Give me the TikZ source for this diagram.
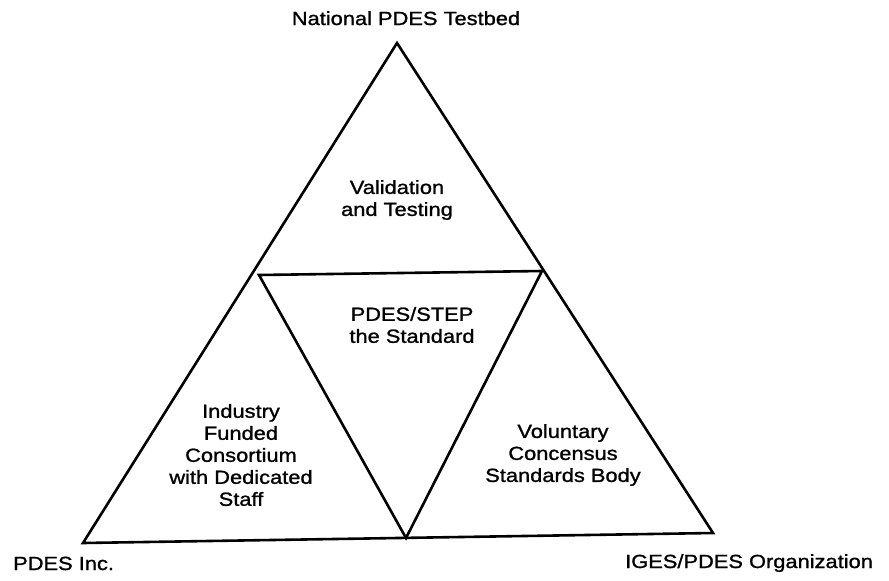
\documentclass[tikz,border=0pt]{standalone}
\usepackage{fontspec}
\setmainfont{Liberation Sans}[FakeStretch=1.15,FakeBold=1.2]
\usetikzlibrary{positioning}
\definecolor{pdInk}{HTML}{000000}
\tikzset{
  side/.style={draw=pdInk,line width=2.6pt,line join=miter},
  corner/.style={font=\fontsize{19}{22}\selectfont,text=pdInk,inner sep=0pt},
  field/.style={corner,align=center},
}

\begin{document}
\begin{tikzpicture}[x=1pt,y=-1pt]
  \useasboundingbox (0,0) rectangle (889,581);
  \coordinate (apex) at (397,43);
  \coordinate (baseL) at (83,543);
  \coordinate (baseR) at (713,533);
  \coordinate (midL) at (259,275);
  \coordinate (midR) at (542,271);
  \coordinate (midB) at (406,538);
  \draw[side] (apex) -- (baseL) -- (baseR) -- cycle;
  \draw[side] (midL) -- (midR) -- (midB) -- cycle;
  \node[corner,anchor=base] (testbed) at (406,25) {National PDES Testbed};
  \node[corner,anchor=base west] (inc) at (13,570) {PDES Inc.};
  \node[corner,anchor=base west] (iges) at (625,568) {IGES/PDES Organization};
  \node[field] (testing) at (397,200) {Validation\\and Testing};
  \node[field] (standard) at (412,325) {PDES/STEP\\the Standard};
  \node[field] (consortium) at (241,455) {Industry\\Funded\\Consortium\\with Dedicated\\Staff};
  \node[field] (body) at (563,455) {Voluntary\\Concensus\\Standards Body};
\end{tikzpicture}
\end{document}
